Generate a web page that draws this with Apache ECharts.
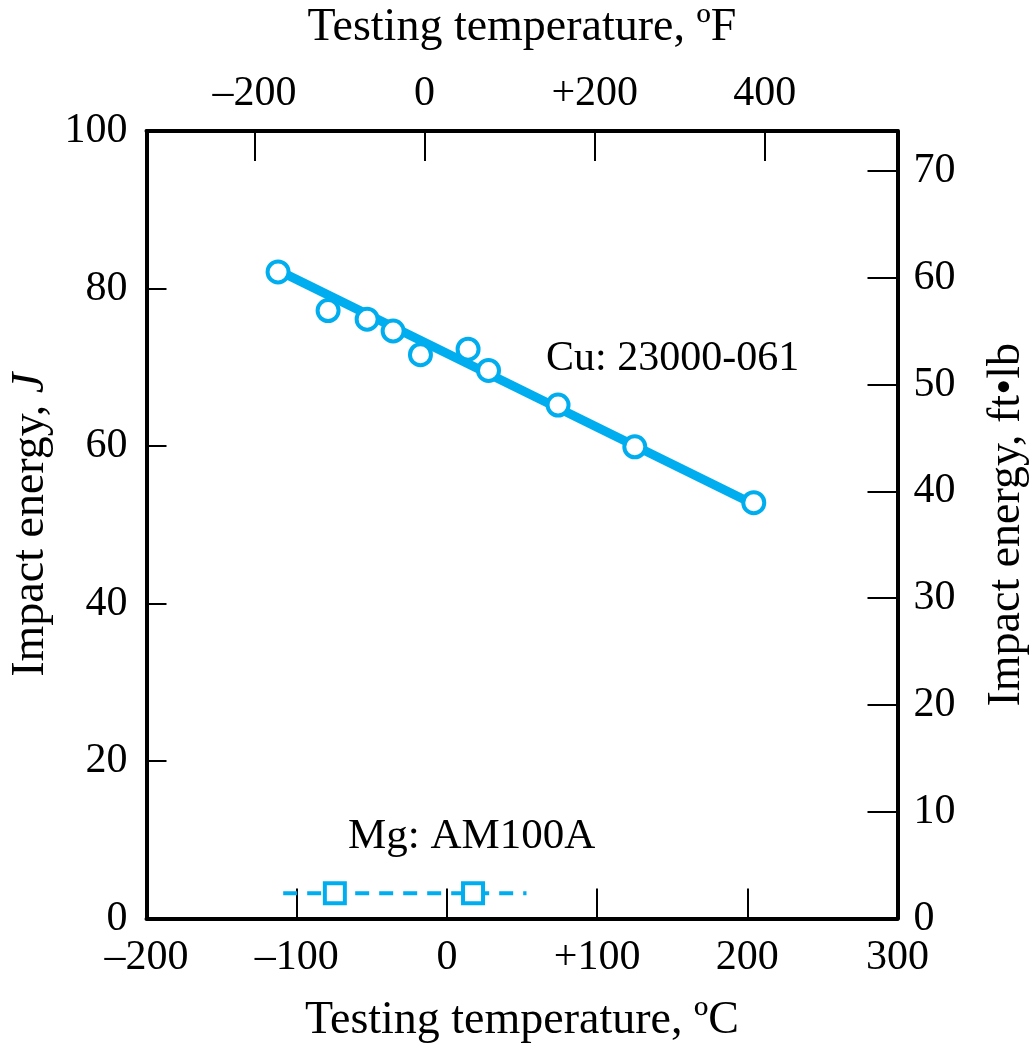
<!DOCTYPE html>
<html>
<head>
<meta charset="utf-8">
<script src="https://cdn.jsdelivr.net/npm/echarts@6/dist/echarts.min.js"></script>
<style>html,body{margin:0;padding:0;background:#fff}#c{width:1033px;height:1045px}</style>
</head>
<body>
<div id="c"></div>
<script>
// ---- data ----
const cuTempC   = [-112.4, -79.1, -53.1, -35.8, -17.6, 14.1, 27.7, 74.0, 125.1, 204.3];
const cuEnergyJ = [82.1, 77.2, 76.1, 74.6, 71.6, 72.3, 69.6, 65.2, 59.9, 52.8];
const cuFitX = [-112.4, 204.3];
const cuFitY = [82.3, 52.6];
const mgTempC   = [-74.6, 17.4];
const mgEnergyJ = [3.2, 3.2];
const mgLineX = [-109, 53];
const mgLineY = [3.2, 3.2];
const bottomTicks = [-200, -100, 0, 100, 200, 300];
const bottomTickLabels = ['\u2013200', '\u2013100', '0', '+100', '200', '300'];
const topTicksF = [-200, 0, 200, 400];
const topTickLabels = ['\u2013200', '0', '+200', '400'];
const leftTicks = [0, 20, 40, 60, 80, 100];
const rightTicksFtLb = [0, 10, 20, 30, 40, 50, 60, 70];
const J_PER_FTLB = 1.35582;
const cuLabel = 'Cu: 23000-061';
const mgLabel = 'Mg: AM100A';

const FONT = 'Liberation Serif';
const BLUE = '#00aeef';
const FS = 42;
const NFS = 46;

const pairs = (xs, ys) => xs.map((x, i) => [x, ys[i]]);

const chart = echarts.init(document.getElementById('c'), null, {renderer: 'canvas'});
const axisLine = {show: true, onZero: false, lineStyle: {color: '#000', width: 4}};
const labelStyle = {color: '#000', fontFamily: FONT, fontSize: FS};

chart.setOption({
  animation: false,
  backgroundColor: '#fff',
  grid: {left: 146.5, right: 135.5, top: 131, bottom: 126.5, containLabel: false, outerBoundsMode: 'none'},
  xAxis: [
    {
      type: 'value', position: 'bottom', min: -200, max: 300, interval: 100,
      axisLine: axisLine,
      axisTick: {inside: true, length: 30, lineStyle: {color: '#000', width: 2}},
      axisLabel: Object.assign({margin: 18, showMinLabel: true, showMaxLabel: true,
        formatter: v => bottomTickLabels[bottomTicks.indexOf(v)] ?? ''}, labelStyle),
      splitLine: {show: false},
      name: 'Testing temperature, \u00baC', nameLocation: 'middle', nameGap: 79,
      nameTextStyle: {color: '#000', fontFamily: FONT, fontSize: NFS}
    },
    {
      type: 'value', position: 'top', min: -327, max: 556,
      axisLine: axisLine,
      axisTick: {inside: true, length: 30, customValues: topTicksF, lineStyle: {color: '#000', width: 2}},
      axisLabel: Object.assign({margin: 16, customValues: topTicksF,
        formatter: v => topTickLabels[topTicksF.indexOf(v)] ?? ''}, labelStyle),
      splitLine: {show: false},
      name: 'Testing temperature, \u00baF', nameLocation: 'middle', nameGap: 80,
      nameTextStyle: {color: '#000', fontFamily: FONT, fontSize: NFS}
    }
  ],
  yAxis: [
    {
      type: 'value', position: 'left', min: 0, max: 100, interval: 20,
      axisLine: axisLine,
      axisTick: {inside: true, length: 20, lineStyle: {color: '#000', width: 2}},
      axisLabel: Object.assign({margin: 19}, labelStyle),
      splitLine: {show: false},
      name: 'Impact energy, {i|J}', nameLocation: 'middle', nameGap: 92, nameRotate: 90,
      nameTextStyle: {color: '#000', fontFamily: FONT, fontSize: NFS,
        rich: {i: {fontStyle: 'italic', fontFamily: FONT, fontSize: NFS, color: '#000'}}}
    },
    {
      type: 'value', position: 'right', min: 0, max: 100 / J_PER_FTLB,
      axisLine: axisLine,
      axisTick: {inside: true, length: 30, customValues: rightTicksFtLb, lineStyle: {color: '#000', width: 2}},
      axisLabel: Object.assign({margin: 16, customValues: rightTicksFtLb}, labelStyle),
      splitLine: {show: false},
      name: 'Impact energy, ft\u2022lb', nameLocation: 'middle', nameGap: 86, nameRotate: 90,
      nameTextStyle: {color: '#000', fontFamily: FONT, fontSize: NFS}
    }
  ],
  series: [
    {
      type: 'line', xAxisIndex: 0, yAxisIndex: 0, data: pairs(cuFitX, cuFitY),
      symbol: 'none', lineStyle: {color: BLUE, width: 9}, z: 2, silent: true
    },
    {
      type: 'scatter', xAxisIndex: 0, yAxisIndex: 0, data: pairs(cuTempC, cuEnergyJ),
      symbol: 'circle', symbolSize: 21,
      itemStyle: {color: '#fff', borderColor: BLUE, borderWidth: 4, opacity: 1}, z: 3
    },
    {
      type: 'line', xAxisIndex: 0, yAxisIndex: 0, data: pairs(mgLineX, mgLineY),
      symbol: 'none', lineStyle: {color: BLUE, width: 4, type: [14, 10]}, z: 2, silent: true
    },
    {
      type: 'scatter', xAxisIndex: 0, yAxisIndex: 0, data: pairs(mgTempC, mgEnergyJ),
      symbol: 'rect', symbolSize: 20,
      itemStyle: {color: '#fff', borderColor: BLUE, borderWidth: 4, opacity: 1}, z: 3
    }
  ],
  graphic: [
    {type: 'text', left: 546, top: 338,
      style: {text: cuLabel, fontFamily: FONT, fontSize: FS, fill: '#000'}},
    {type: 'text', left: 348, top: 815,
      style: {text: mgLabel, fontFamily: FONT, fontSize: 43, fill: '#000'}}
  ]
});
</script>
</body>
</html>
